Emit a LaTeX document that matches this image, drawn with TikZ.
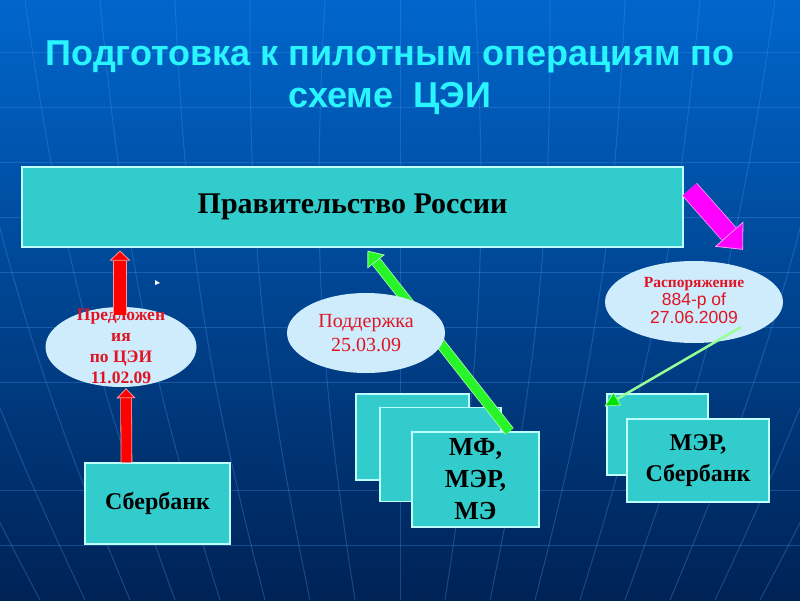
\documentclass[tikz,border=0pt]{standalone}
\usepackage{fontspec}
\setmainfont{Liberation Serif}
\newfontfamily\headfont{Liberation Sans}
\usetikzlibrary{arrows.meta}
\usetikzlibrary{shapes.geometric}
\usetikzlibrary{calc}
\definecolor{bgtop}{RGB}{0,102,204}
\definecolor{bgmid}{RGB}{0,66,150}
\definecolor{bgbot}{RGB}{0,34,85}
\definecolor{gridblue}{RGB}{70,140,230}
\definecolor{boxfill}{RGB}{51,204,204}
\definecolor{boxline}{RGB}{190,255,255}
\definecolor{bubblefill}{RGB}{206,236,252}
\definecolor{bubblered}{RGB}{225,20,35}
\definecolor{titlecyan}{RGB}{40,245,255}
\definecolor{arrowred}{RGB}{255,0,0}
\definecolor{arrowgreen}{RGB}{40,245,40}
\definecolor{arrowpink}{RGB}{255,0,255}
\definecolor{thingreen}{RGB}{150,255,150}
\definecolor{tipgreen}{RGB}{0,225,0}
\tikzset{ grid_line/.style = {draw=gridblue, opacity=0.35, line width=1pt} }
\tikzset{ org_box/.style = {rectangle, draw=boxline, line width=1.2pt, fill=boxfill, inner sep=0pt, align=center} }
\tikzset{ bubble/.style = {ellipse, fill=bubblefill, inner sep=0pt} }
\tikzset{ bubble_text/.style = {text=bubblered, align=center, inner sep=0pt} }
\tikzset{ block_arrow/.style n args = {4}{draw=#1, line width=#2, -{Triangle[width=#3, length=#4, line width=0.8pt, fill=#1, color=white!60!#1]}, preaction={draw=white!60!#1, line width=#2+1.6pt, arrows=-, shorten >=#4} } }

\begin{document}
\begin{tikzpicture}[x=1pt,y=-1pt]
\shade[top color=bgtop, middle color=bgmid, bottom color=bgbot] (0,0) rectangle (800,600);
\useasboundingbox (0,0) rectangle (800,600);
% globe grid behind everything
\foreach \yy in {52,107,162,217,272,327,382,490,545}
  \draw[grid_line] (0,\yy) -- (800,\yy);
\draw[grid_line] (400,0) -- (400,600);
\foreach \k in {1,...,9} {
  \draw[grid_line] (400-75*\k,0) to[bend right=6] (400-45*\k,600);
  \draw[grid_line] (400+75*\k,0) to[bend left=6] (400+45*\k,600);
}

\node[text=titlecyan, align=center, font=\headfont\bfseries\fontsize{36}{42}\selectfont] (title) at (390,78) {Подготовка к пилотным операциям по\\схеме\ \ ЦЭИ};

\node[org_box, minimum width=661pt, minimum height=80pt, font=\bfseries\fontsize{30}{36}\selectfont] (gov) at (352.5,207) {Правительство России};
\node[org_box, minimum width=145pt, minimum height=81pt, font=\bfseries\fontsize{24}{30}\selectfont] (sber) at (157.5,503.5) {Сбербанк};
\node[org_box, minimum width=113pt, minimum height=86pt] (mf1) at (412.5,437) {};
\node[org_box, minimum width=121pt, minimum height=94pt] (mf2) at (440.5,454.5) {};
\node[org_box, minimum width=127pt, minimum height=95pt, font=\bfseries\fontsize{26}{32}\selectfont] (mf3) at (475.5,479.5) {МФ,\\МЭР,\\МЭ};
\node[org_box, minimum width=101pt, minimum height=81pt] (mer1) at (657.5,434.5) {};
\node[org_box, minimum width=142pt, minimum height=83pt, font=\bfseries\fontsize{24}{31}\selectfont] (mer2) at (698,460.5) {МЭР,\\Сбербанк};

\draw[block_arrow={arrowgreen}{9pt}{22pt}{14pt}] ($(mf3.north)+(34,0)$) -- ($(gov.south)+(15,3)$);

\node[bubble, minimum width=151pt, minimum height=80pt] (ell1) at (121,347) {};
\node[bubble_text, font=\bfseries\fontsize{17.5}{21}\selectfont] (ell1text) at (121,346) {Предложен\\ия\\по ЦЭИ\\11.02.09};
\node[bubble, minimum width=158pt, minimum height=80pt] (ell2) at (366,333) {};
\node[bubble_text, font=\fontsize{20}{24}\selectfont] (ell2text) at (ell2) {Поддержка\\25.03.09};
\node[bubble, minimum width=178pt, minimum height=82pt] (ell3) at (694,302) {};
\node[bubble_text, font=\headfont\fontsize{17.5}{18}\selectfont] (ell3text) at (694,301) {{\rmfamily\bfseries\fontsize{15.5}{18}\selectfont Распоряжение}\\884-р of\\27.06.2009};

\draw[block_arrow={arrowred}{12pt}{21pt}{10pt}] ($(ell1.north)+(-1,8)$) -- ($(ell1.north |- gov.south)+(-1,3)$);
\draw[block_arrow={arrowred}{10pt}{19pt}{10pt}] ($(sber.north)+(-31,0)$) -- ($(ell1.south)+(5,1)$);
\draw[block_arrow={arrowpink}{18pt}{38pt}{21pt}] ($(gov.north east)+(6,23)$) -- ($(ell3.north)+(49,-11)$);
\draw[draw=thingreen, line width=2.5pt, -{Triangle[width=15pt, length=15pt, line width=0.8pt, fill=tipgreen, color=thingreen]}] ($(ell3.center)+(47,25)$) -- ($(mer1.north west)+(-2,13)$);

\fill[white] (155,280) -- (160,283) -- (155,285) -- cycle;
\end{tikzpicture}
\end{document}
